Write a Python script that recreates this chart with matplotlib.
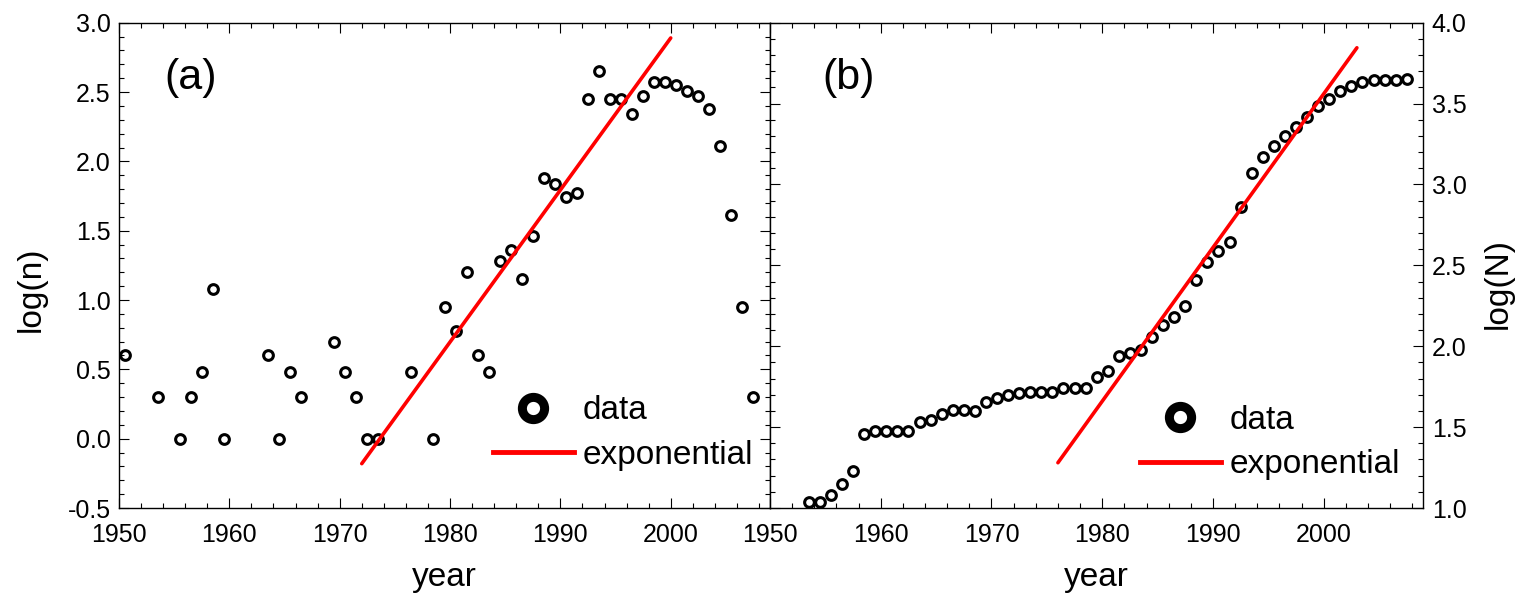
import numpy as np
import matplotlib
matplotlib.use("Agg")
import matplotlib.pyplot as plt
from matplotlib.lines import Line2D
from matplotlib.ticker import MultipleLocator, FormatStrFormatter

plt.rcParams['font.family'] = ['Liberation Sans', 'DejaVu Sans']

# === panel (a): yearly counts, log10 ===
years_a = [1950, 1953, 1955, 1956, 1957, 1958, 1959, 1963, 1964, 1965, 1966,
           1969, 1970, 1971, 1972, 1973, 1976, 1978, 1979, 1980, 1981, 1982,
           1983, 1984, 1985, 1986, 1987, 1988, 1989, 1990, 1991, 1992, 1993,
           1994, 1995, 1996, 1997, 1998, 1999, 2000, 2001, 2002, 2003, 2004,
           2005, 2006, 2007]
logn_a = [0.60, 0.30, 0.0, 0.30, 0.48, 1.08, 0.0, 0.60, 0.0, 0.48, 0.30,
          0.70, 0.48, 0.30, 0.0, 0.0, 0.48, 0.0, 0.95, 0.78, 1.20, 0.60,
          0.48, 1.28, 1.36, 1.15, 1.46, 1.88, 1.84, 1.74, 1.77, 2.45, 2.65,
          2.45, 2.45, 2.34, 2.47, 2.57, 2.575, 2.55, 2.51, 2.475, 2.38, 2.11,
          1.61, 0.95, 0.30]
fit_a_years = [1972, 2000]
fit_a_vals = [-0.18, 2.89]

# === panel (b): cumulative counts, log10 ===
years_b = list(range(1953, 2008))
logN_b = [1.04, 1.04, 1.08, 1.15, 1.23, 1.46, 1.476, 1.476, 1.476, 1.476,
          1.533, 1.546, 1.58, 1.606, 1.606, 1.60, 1.653, 1.68, 1.70, 1.71,
          1.715, 1.715, 1.715, 1.744, 1.74, 1.744, 1.81, 1.85, 1.94, 1.96,
          1.977, 2.06, 2.13, 2.18, 2.25, 2.41, 2.52, 2.59, 2.646, 2.86,
          3.07, 3.167, 3.24, 3.30, 3.357, 3.42, 3.485, 3.53, 3.577, 3.61,
          3.635, 3.645, 3.645, 3.645, 3.65]
fit_b_years = [1976, 2003]
fit_b_vals = [1.28, 3.845]

xticks = [1950, 1960, 1970, 1980, 1990, 2000]

fig = plt.figure(figsize=(15.2, 5.93), dpi=100)
ax_a = fig.add_axes([0.0783, 0.1433, 0.4283, 0.8184])
ax_b = fig.add_axes([0.5066, 0.1433, 0.4298, 0.8184])

mk = dict(marker='o', ls='none', ms=7, mew=2.2, mfc='none', mec='black')
fitstyle = dict(color='#ff0000', lw=2.6, solid_capstyle='round')


def style_axis(ax):
    ax.set_xlim(1950, 2009)
    ax.set_xticks(xticks)
    ax.xaxis.set_minor_locator(MultipleLocator(2))
    ax.yaxis.set_major_locator(MultipleLocator(0.5))
    ax.yaxis.set_minor_locator(MultipleLocator(0.1))
    ax.yaxis.set_major_formatter(FormatStrFormatter('%.1f'))
    ax.tick_params(which='both', direction='in', top=True, bottom=True,
                   left=True, right=True, width=0.8, labelsize=18)
    ax.tick_params(which='major', length=7)
    ax.tick_params(which='minor', length=3.5)
    ax.tick_params(axis='x', pad=11)
    ax.tick_params(axis='y', pad=6)
    for s in ax.spines.values():
        s.set_linewidth(1.0)
    ax.set_xlabel('year', fontsize=24)
    ax.xaxis.set_label_coords(0.5, -0.112)


def add_legend(ax, x, y):
    h = [Line2D([], [], marker='o', ls='none', ms=16, mew=6.5, mfc='none', mec='black'),
         Line2D([], [], color='#ff0000', lw=3.5)]
    ax.legend(h, ['data', 'exponential'], loc='upper left', bbox_to_anchor=(x, y),
              frameon=False, fontsize=24, handlelength=2.43, handletextpad=0.27,
              labelspacing=0.4, borderpad=0, borderaxespad=0)


# (a)
ax_a.plot(np.array(years_a) + 0.5, logn_a, **mk)
ax_a.plot(fit_a_years, fit_a_vals, **fitstyle)
style_axis(ax_a)
ax_a.set_ylim(-0.5, 3.0)
ax_a.set_ylabel('log(n)', fontsize=24)
ax_a.yaxis.set_label_coords(-0.111, 0.451)
ax_a.text(0.069, 0.886, '(a)', transform=ax_a.transAxes, fontsize=31, va='center')
add_legend(ax_a, 0.574, 0.232)

# (b)
ax_b.plot(np.array(years_b) + 0.5, logN_b, **mk)
ax_b.plot(fit_b_years, fit_b_vals, **fitstyle)
style_axis(ax_b)
ax_b.set_ylim(1.0, 4.0)
ax_b.tick_params(axis='y', labelleft=False, labelright=True)
ax_b.yaxis.set_label_position('right')
ax_b.set_ylabel('log(N)', fontsize=24)
ax_b.yaxis.set_label_coords(1.0915, 0.463)
ax_b.text(0.080, 0.887, '(b)', transform=ax_b.transAxes, fontsize=31, va='center')
add_legend(ax_b, 0.566, 0.212)

fig.savefig('out.png', dpi=100)
